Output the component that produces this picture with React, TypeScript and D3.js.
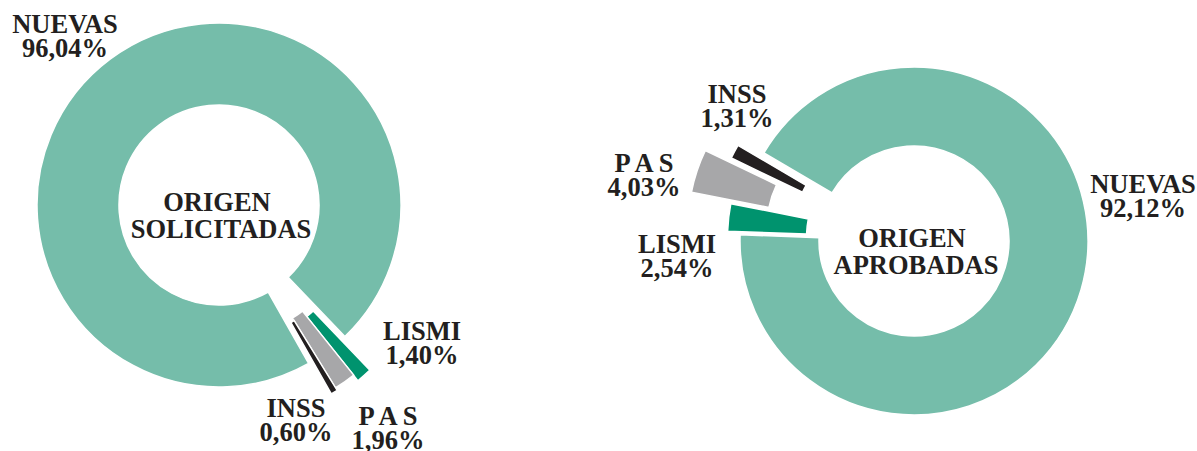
import React from 'react';
import * as d3 from 'd3';

// origen de las solicitudes / aprobaciones (%)
const categories = ['NUEVAS', 'LISMI', 'P A S', 'INSS'];
const solicitadas = [96.04, 1.4, 1.96, 0.6];
const aprobadas = [92.12, 2.54, 4.03, 1.31];

const colors = ['#75bdaa', '#00936e', '#a7a7a9', '#231f20'];
const FONT = '"Liberation Serif", "Times New Roman", serif';
const deg = Math.PI / 180;

const fmt = (v: number) => d3.format('.2f')(v).replace('.', ',') + '%';

type Layout = {
  cx: number;
  cy: number;
  r0: number;
  r1: number;
  start: number; // degrees, where NUEVAS starts
  explode: number[]; // px per slice
  labels: [number, number][]; // label anchor (middle, first baseline)
  title: string[];
};

const left: Layout = {
  cx: 219,
  cy: 205,
  r0: 100,
  r1: 182,
  start: 150.5,
  explode: [0, 42, 35, 38],
  labels: [[65, 33], [422, 340], [388, 425], [296, 417]],
  title: ['ORIGEN', 'SOLICITADAS'],
};

const right: Layout = {
  cx: 914,
  cy: 241,
  r0: 95,
  r1: 174,
  start: 300.4,
  explode: [0, 13, 54, 27],
  labels: [[1143, 193], [677, 253], [644, 172], [737, 103]],
  title: ['ORIGEN', 'APROBADAS'],
};

const textProps = {
  textAnchor: 'middle' as const,
  fontFamily: FONT,
  fontWeight: 'bold',
  fontSize: 26.5,
  fill: '#231f20',
};

function Donut({ values, layout }: { values: number[]; layout: Layout }) {
  const s = layout.start * deg;
  const pie = d3.pie<number>().sort(null).startAngle(s).endAngle(s + 2 * Math.PI);
  const arcs = pie(values);
  const arc = d3.arc<d3.PieArcDatum<number>>().innerRadius(layout.r0).outerRadius(layout.r1);
  // small slices are pulled out along the middle of their group
  const mid = (arcs[1].startAngle + arcs[arcs.length - 1].endAngle) / 2;

  return (
    <g>
      <g transform={`translate(${layout.cx},${layout.cy})`}>
        {arcs.map((a, i) => {
          const d = layout.explode[i];
          const dx = d * Math.sin(mid);
          const dy = -d * Math.cos(mid);
          return (
            <path
              key={i}
              d={arc(a) || ''}
              fill={colors[i]}
              stroke="#fff"
              strokeWidth={1.5}
              transform={`translate(${dx},${dy})`}
            />
          );
        })}
        <text {...textProps} x={-2} y={6}>{layout.title[0]}</text>
        <text {...textProps} x={2} y={33}>{layout.title[1]}</text>
      </g>
      {categories.map((c, i) => (
        <g key={c}>
          <text {...textProps} x={layout.labels[i][0]} y={layout.labels[i][1]}>{c}</text>
          <text {...textProps} x={layout.labels[i][0]} y={layout.labels[i][1] + 24}>
            {fmt(values[i])}
          </text>
        </g>
      ))}
    </g>
  );
}

export default function App() {
  return (
    <svg
      width={1197}
      height={451}
      style={{ position: 'absolute', left: 0, top: 0, background: '#fff' }}
    >
      <Donut values={solicitadas} layout={left} />
      <Donut values={aprobadas} layout={right} />
    </svg>
  );
}
